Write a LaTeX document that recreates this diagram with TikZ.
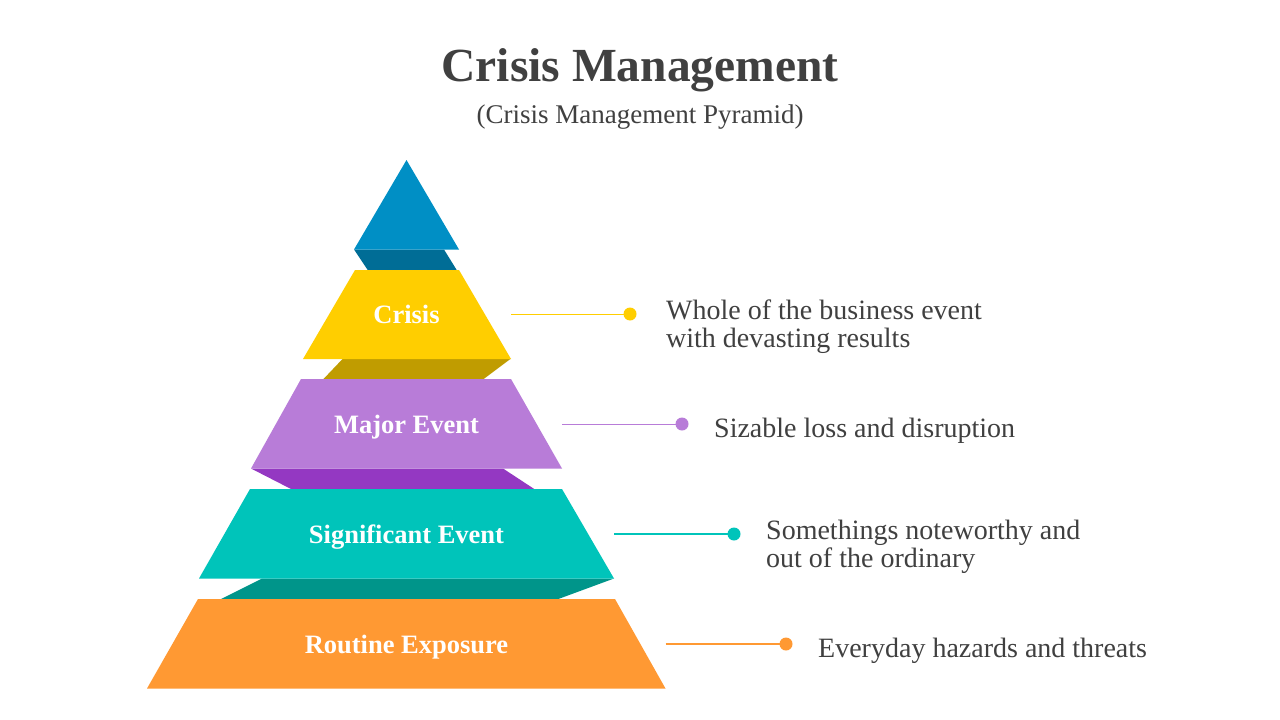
\documentclass[tikz,border=0pt]{standalone}
\usepackage{fontspec}
\setmainfont{Liberation Serif}
\definecolor{txt}{HTML}{404040}
\definecolor{cblue}{HTML}{008FC5}
\definecolor{cblued}{HTML}{006D96}
\definecolor{cyel}{HTML}{FFCE00}
\definecolor{cyeld}{HTML}{C09C00}
\definecolor{cpur}{HTML}{B87CD8}
\definecolor{cpurd}{HTML}{9438C2}
\definecolor{cteal}{HTML}{00C4BA}
\definecolor{cteald}{HTML}{00958A}
\definecolor{cora}{HTML}{FF9933}
\tikzset{
  lvlabel/.style={text=white, inner sep=0pt, anchor=base, font=\bfseries\fontsize{26.5}{30}\selectfont},
  desc/.style={text=txt, inner sep=0pt, align=left, font=\fontsize{28}{28}\selectfont},
  dotnode/.style={circle, inner sep=0pt, minimum size=13pt},
  thinlink/.style={line width=1pt},
  thicklink/.style={line width=1.6pt}
}
\begin{document}
\begin{tikzpicture}[x=1pt,y=-1pt]
\useasboundingbox (0,0) rectangle (1280,720);
\fill[white] (0,0) rectangle (1280,720);

% title
\node[text=txt, inner sep=0pt, anchor=base, font=\bfseries\fontsize{47.5}{50}\selectfont] (title) at (640,81.5) {Crisis Management};
\node[text=txt, inner sep=0pt, anchor=base, font=\fontsize{27}{30}\selectfont] (subtitle) at (640,123) {(Crisis Management Pyramid)};

% shadow bands
\fill[cblued] (354,249.5) -- (444,249.5) -- (457,270.5) -- (368,270.5) -- cycle;
\fill[cyeld] (343,358.5) -- (511,358.5) -- (483,379.5) -- (323,379.5) -- cycle;
\fill[cpurd] (251,468.5) -- (503,468.5) -- (535,489.5) -- (292,489.5) -- cycle;
\fill[cteald] (262,578.5) -- (614,578.5) -- (557,599.5) -- (220,599.5) -- cycle;

% layers
\fill[cblue] (406.5,160) -- (459,249.5) -- (354,249.5) -- cycle;
\fill[cyel] (355,270) -- (459,270) -- (511,359) -- (303,359) -- cycle;
\fill[cpur] (301,379) -- (511,379) -- (562,468.5) -- (251,468.5) -- cycle;
\fill[cteal] (250,489) -- (562,489) -- (614,578.5) -- (199,578.5) -- cycle;
\fill[cora] (198,599) -- (615,599) -- (665.5,688.5) -- (147,688.5) -- cycle;

% level labels
\node[lvlabel] (l1) at (406.5,323) {Crisis};
\node[lvlabel] (l2) at (406.5,433) {Major Event};
\node[lvlabel] (l3) at (406.5,543) {Significant Event};
\node[lvlabel] (l4) at (406.5,653) {Routine Exposure};

% connector start points
\coordinate (s1) at (511,314);
\coordinate (s2) at (562,424);
\coordinate (s3) at (614,534);
\coordinate (s4) at (665.5,644);

% dots
\node[dotnode, fill=cyel] (d1) at (630,314) {};
\node[dotnode, fill=cpur] (d2) at (682,424) {};
\node[dotnode, fill=cteal] (d3) at (734,534) {};
\node[dotnode, fill=cora] (d4) at (786,644) {};

% connectors
\draw[thinlink, cyel] (s1) -- (d1.center);
\draw[thinlink, cpur] (s2) -- (d2.center);
\draw[thicklink, cteal] (s3) -- (d3.center);
\draw[thicklink, cora] (s4) -- (d4.center);

% descriptions
\node[desc, anchor=west] (t1) at (666,327) {Whole of the business event\\with devasting results};
\node[desc, anchor=base west] (t2) at (714,437.5) {Sizable loss and disruption};
\node[desc, anchor=west] (t3) at (766,547) {Somethings noteworthy and\\out of the ordinary};
\node[desc, anchor=base west] (t4) at (818,657.5) {Everyday hazards and threats};
\end{tikzpicture}
\end{document}
